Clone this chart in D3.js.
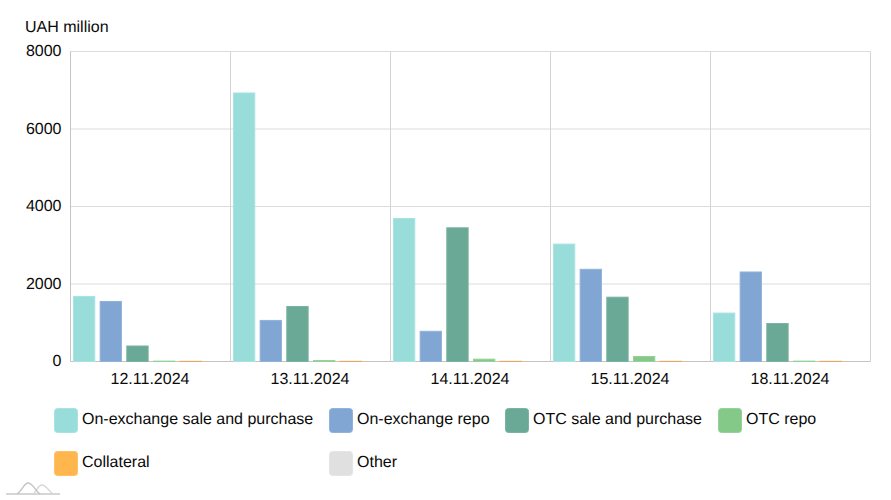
<!DOCTYPE html>
<html><head><meta charset="utf-8">
<script src="https://cdn.jsdelivr.net/npm/d3@7/dist/d3.min.js"></script>
<style>html,body{margin:0;padding:0;background:#fff}svg{display:block}text{font-family:"Liberation Sans",Arial,sans-serif;fill:#0a0a0a;text-rendering:geometricPrecision}</style>
</head><body><svg id="c" width="891" height="500"></svg>
<script>
const categories = ["12.11.2024","13.11.2024","14.11.2024","15.11.2024","18.11.2024"];
const seriesNames = ["On-exchange sale and purchase","On-exchange repo","OTC sale and purchase","OTC repo","Collateral","Other"];
const onExchangeSale = [1680,6930,3690,3030,1250];
const onExchangeRepo = [1550,1060,780,2380,2310];
const otcSale = [400,1420,3450,1660,980];
const otcRepo = [10,25,60,130,10];
const collateral = [5,5,5,5,5];
const other = [0,0,0,0,0];
const yTicks = [0,2000,4000,6000,8000];
const colors = ["#99dddb","#82a6d3","#6aa995","#85c988","#ffb74d","#e0e0e0"];
const borders = ["#a9e3e1","#92b2da","#7ab3a1","#96d199","#e0a860","#e5e5e5"];
const allSeries = [onExchangeSale,onExchangeRepo,otcSale,otcRepo,collateral,other];

const svg = d3.select("#c");
const L=70.5,R=870.5,T=51.5,B=361.5;
const x = d3.scaleBand().domain(categories).range([L,R]);
const inner = d3.scaleBand().domain(d3.range(6)).range([0,x.bandwidth()]).paddingInner(0.2).paddingOuter(0.1);
const y = d3.scaleLinear().domain([0,8000]).range([B,T]);

const yAxis = d3.axisLeft(y).tickValues(yTicks).tickSize(0).tickFormat(d3.format("d"));
const gy = svg.append("g").attr("transform",`translate(${L},-1.75)`).call(yAxis);
gy.select(".domain").remove();
gy.selectAll(".tick text").attr("x",-9).attr("dy","0.36em").attr("font-size",16).style("font-family",'"Liberation Sans"').attr("fill","#0a0a0a");

const grid = svg.append("g");
grid.selectAll("line.h").data(yTicks).join("line").attr("class","h")
  .attr("x1",L).attr("x2",R).attr("y1",d=>y(d)).attr("y2",d=>y(d))
  .attr("stroke",d=>d===0?"#c4c4c4":"#dcdcdc").attr("stroke-width",1);
const vLines=[...categories.map(c=>x(c)),R];
grid.selectAll("line.v").data(vLines).join("line").attr("class","v")
  .attr("x1",d=>d).attr("x2",d=>d).attr("y1",T).attr("y2",B)
  .attr("stroke",(d,i)=>i===0?"#c4c4c4":"#d4d4d4").attr("stroke-width",1);

const g = svg.append("g").attr("transform","translate(0.3,0)");
allSeries.forEach((vals,si)=>{
  g.selectAll(null).data(vals).join("rect")
   .attr("x",(d,i)=>x(categories[i])+inner(si))
   .attr("width",inner.bandwidth())
   .attr("y",d=>y(d))
   .attr("height",d=>Math.max(0,y(0)-y(d)))
   .attr("fill",colors[si])
   .attr("stroke",d=>d>0?borders[si]:"none").attr("stroke-width",1);
});

const xAxis = d3.axisBottom(x).tickSize(0);
const gx = svg.append("g").attr("transform",`translate(-0.5,${B})`).call(xAxis);
gx.select(".domain").remove();
gx.selectAll(".tick text").attr("y",11).attr("dy","0.71em").attr("font-size",16).style("font-family",'"Liberation Sans"').attr("fill","#0a0a0a");

svg.append("text").attr("x",25).attr("y",32).attr("font-size",16).text("UAH million");

const legendX=[54,329,505,718,54,329];
const legendY=[408,408,408,408,451,451];
const lg = svg.append("g").selectAll("g").data(seriesNames).join("g")
  .attr("transform",(d,i)=>`translate(${legendX[i]},${legendY[i]})`);
lg.append("rect").attr("x",0.5).attr("y",0.5).attr("width",23).attr("height",24).attr("rx",3)
  .attr("fill",(d,i)=>colors[i]).attr("stroke",(d,i)=>i===4?"#ffc064":borders[i]);
lg.append("text").attr("x",28).attr("y",16).attr("font-size",16).text(d=>d);

const logo = svg.append("g").attr("fill","none");
logo.append("path").attr("d","M6 494H60").attr("stroke","#d6d6d6").attr("stroke-width",2);
logo.append("path").attr("d","M33 494C37 491 38 485 42 485C46 485 49 491 53 494").attr("stroke","#d8d8d8").attr("stroke-width",1.4);
logo.append("path").attr("d","M17 494C22 491 24 483 28 483C33 483 35 491 40 494").attr("stroke","#c4c4c4").attr("stroke-width",1.4);
</script></body></html>
